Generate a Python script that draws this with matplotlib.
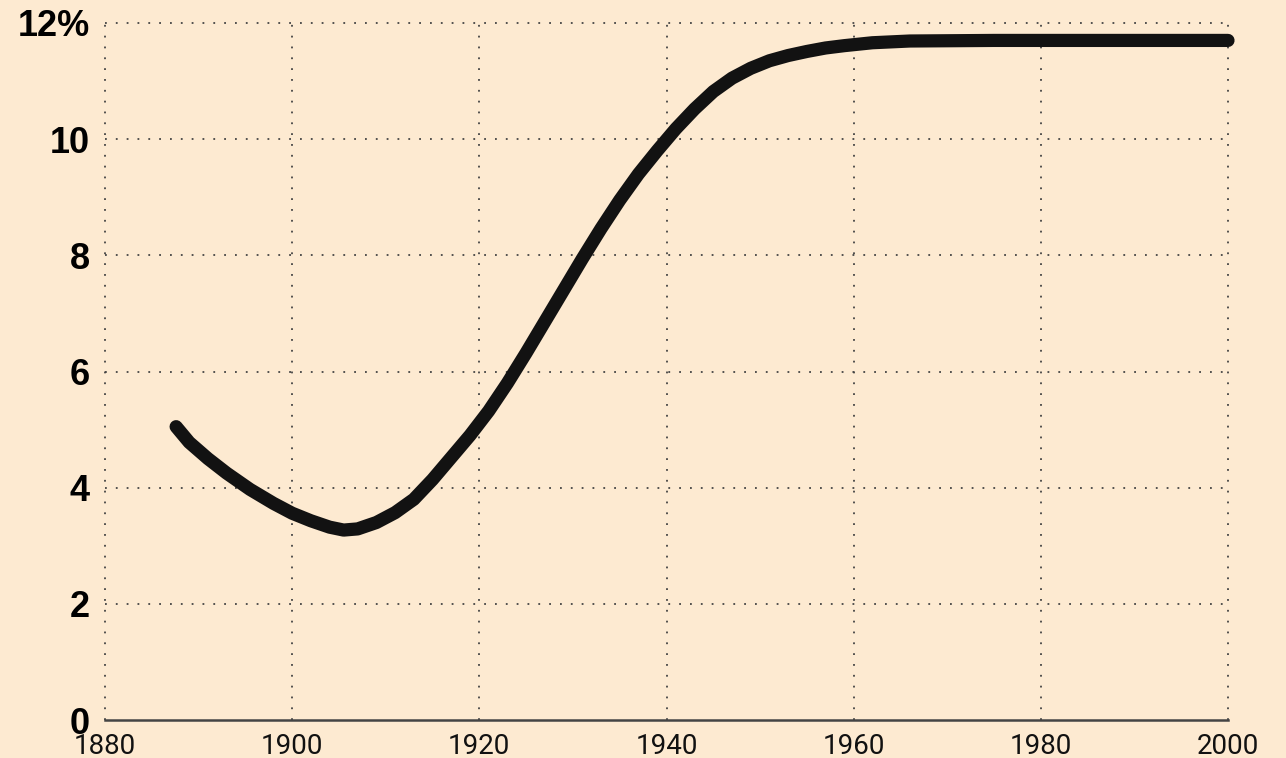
import matplotlib
matplotlib.use("Agg")
import matplotlib.pyplot as plt

years = [1887.6, 1889, 1891, 1893, 1895.5, 1898, 1900, 1902, 1904, 1905.5,
         1907, 1909, 1911, 1913, 1915, 1917, 1919, 1921, 1923, 1925,
         1927, 1929, 1931, 1933, 1935, 1937, 1939, 1941, 1943, 1945,
         1947, 1949, 1951, 1953, 1955, 1957, 1959, 1962, 1966, 1975,
         1985, 2000]
values = [5.05, 4.78, 4.5, 4.25, 3.97, 3.73, 3.56, 3.43, 3.32, 3.27,
          3.29, 3.40, 3.57, 3.80, 4.14, 4.52, 4.90, 5.32, 5.80, 6.32,
          6.86, 7.40, 7.94, 8.46, 8.95, 9.40, 9.80, 10.18, 10.52, 10.82,
          11.05, 11.22, 11.35, 11.44, 11.51, 11.57, 11.61, 11.66, 11.69, 11.70,
          11.70, 11.70]

x_ticks = [1880, 1900, 1920, 1940, 1960, 1980, 2000]
y_ticks = [0, 2, 4, 6, 8, 10, 12]
y_labels = ["0", "2", "4", "6", "8", "10", "12%"]

bg = "#fdead1"
fig = plt.figure(figsize=(12.86, 7.58), dpi=100, facecolor=bg)
ax = fig.add_axes([105/1286, 38/758, (1228-105)/1286, (720-23)/758])
ax.set_facecolor(bg)

ax.set_xlim(1880, 2000)
ax.set_ylim(0, 12)

grid_kw = dict(color="#444444", linewidth=1.3, linestyle=(0, (1, 5)), zorder=1)
for xv in x_ticks:
    ax.axvline(xv, **grid_kw, clip_on=False)
for yv in y_ticks[1:]:
    ax.axhline(yv, **grid_kw, clip_on=False)

ax.plot(years, values, color="#121212", linewidth=9.5, solid_capstyle="round",
        solid_joinstyle="round", zorder=3, clip_on=False)

for s in ["top", "right", "left"]:
    ax.spines[s].set_visible(False)
ax.spines["bottom"].set_color("#444444")
ax.spines["bottom"].set_linewidth(1.8)
ax.spines["bottom"].set_zorder(4)

ax.set_xticks(x_ticks)
ax.set_xticklabels([str(x) for x in x_ticks], fontfamily="Roboto", fontweight="normal",
                   fontsize=20, color="#111111")
ax.set_yticks(y_ticks)
ax.set_yticklabels(y_labels, fontfamily="Liberation Sans", fontweight="bold",
                   fontsize=26, color="#000000")
ax.tick_params(axis="x", length=0, pad=9)
ax.tick_params(axis="y", length=0, pad=11)

fig.savefig("out.png", dpi=100, facecolor=bg)
